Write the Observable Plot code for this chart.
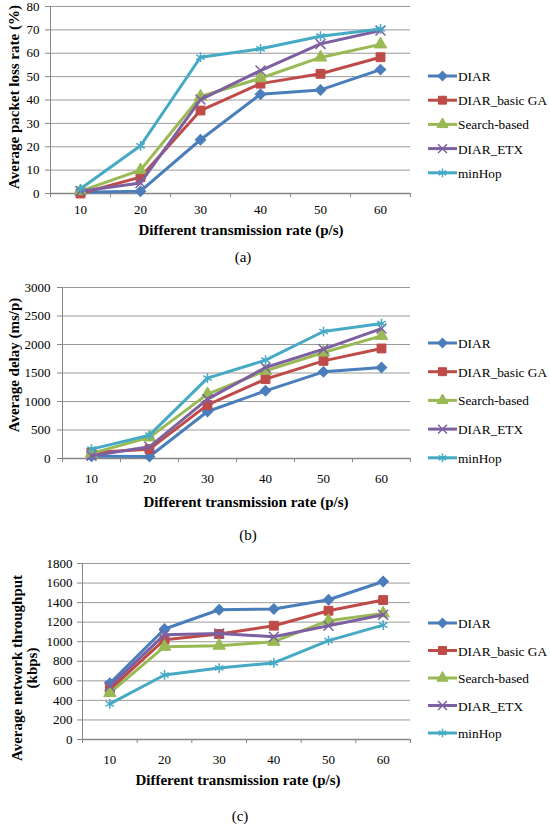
<!DOCTYPE html>
<html>
<head>
<meta charset="utf-8">
<script src="https://cdn.jsdelivr.net/npm/d3@7"></script>
<script src="https://cdn.jsdelivr.net/npm/@observablehq/plot@0.6"></script>
<style>
  html, body { margin: 0; padding: 0; background: #fff; font-family: "Liberation Serif", "DejaVu Serif", serif; }
  #root { position: relative; width: 550px; height: 828px; background: #fff; overflow: hidden; }
  #root svg { position: absolute; left: 0; }
  #root svg text { font-family: "Liberation Serif", "DejaVu Serif", serif !important; }
</style>
</head>
<body>
<div id="root"></div>
<script>
// ---------- data ----------
const series = ["DIAR", "DIAR_basic GA", "Search-based", "DIAR_ETX", "minHop"];
const seriesColors = ["#4A7EBB", "#BE4B48", "#98B954", "#7D60A0", "#46AAC5"];
const rates = [10, 20, 30, 40, 50, 60];

// (a) Average packet loss rate (%)
const lossDIAR    = [0.5, 1, 23, 42.5, 44.3, 53];
const lossBasicGA = [0, 7, 35.5, 47, 51.2, 58.3];
const lossSearch  = [1, 10, 41.5, 49.3, 58.2, 63.8];
const lossETX     = [1, 4.5, 40.2, 52.6, 64, 69.7];
const lossMinHop  = [2, 20.4, 58.3, 61.9, 67.3, 70.4];
const lossTicks   = [0, 10, 20, 30, 40, 50, 60, 70, 80];

// (b) Average delay (ms/p)
const delayDIAR    = [40, 35, 825, 1187, 1520, 1596];
const delayBasicGA = [105, 164, 941, 1392, 1713, 1930];
const delaySearch  = [90, 370, 1129, 1538, 1860, 2152];
const delayETX     = [50, 205, 1041, 1596, 1918, 2280];
const delayMinHop  = [164, 409, 1409, 1725, 2228, 2368];
const delayTicks   = [0, 500, 1000, 1500, 2000, 2500, 3000];

// (c) Average network throughput (kbps)
const thrDIAR    = [575, 1130, 1327, 1334, 1429, 1616];
const thrBasicGA = [510, 1021, 1079, 1164, 1317, 1426];
const thrSearch  = [476, 949, 960, 1000, 1215, 1290];
const thrETX     = [544, 1072, 1085, 1051, 1164, 1276];
const thrMinHop  = [364, 660, 731, 783, 1011, 1170];
const thrTicks   = [0, 200, 400, 600, 800, 1000, 1200, 1400, 1600, 1800];

const xTitle = "Different transmission rate (p/s)";

// ---------- helpers ----------
const FONT = "Liberation Serif, DejaVu Serif, serif";
const GRID = "#9b9b9b";
const AXIS = "#868686";
const symbolNames = ["square", "square", "triangle", "times", "asterisk"];
const rotations = [45, 0, 0, 0, 0];
const radii = [4.2, 5.0, 4.6, 4.6, 4.6];

function rowsOf(arrays) {
  return series.flatMap((s, i) => rates.map((r, j) => ({series: s, rate: r, value: arrays[i][j]})));
}

const boundaries = [rates[0] - 5, ...rates.map(r => r + 5)];

function chart({arrays, ticks, top, height, marginTop, marginBottom, marginLeft, yPad, xPad}) {
  const rows = rowsOf(arrays);
  const marks = [
    Plot.gridY(ticks, {stroke: GRID, strokeOpacity: 1}),
    Plot.axisY(ticks, {tickSize: 5, tickPadding: yPad, label: null, stroke: AXIS, fontSize: 13, tickFormat: d => String(d)}),
    Plot.ruleX([boundaries[0]], {stroke: AXIS}),
    Plot.ruleY([0], {stroke: AXIS, strokeWidth: 1.5}),
    Plot.axisX(boundaries, {tickSize: 4, tickFormat: () => "", label: null, stroke: AXIS}),
    Plot.axisX(rates, {tickSize: 0, tickPadding: xPad, label: null, fontSize: 13, tickFormat: d => String(d)})
  ];
  series.forEach((s, i) => {
    const d = rows.filter(r => r.series === s);
    marks.push(Plot.lineY(d, {x: "rate", y: "value", stroke: "series", strokeWidth: 3}));
    marks.push(Plot.dot(d, {
      x: "rate", y: "value", symbol: "series", fill: "series", stroke: "series",
      r: radii[i], strokeWidth: i < 3 ? 1 : 1.5, rotate: rotations[i]
    }));
  });
  const svg = Plot.plot({
    width: 550, height, marginLeft, marginRight: 140, marginTop, marginBottom,
    style: {fontFamily: FONT, fontSize: "13px", color: "#000", background: "transparent"},
    x: {type: "linear", domain: [boundaries[0], boundaries[boundaries.length - 1]]},
    y: {domain: [ticks[0], ticks[ticks.length - 1]]},
    color: {domain: series, range: seriesColors},
    symbol: {domain: series, range: symbolNames},
    marks
  });
  svg.style.top = top + "px";
  return svg;
}

const root = document.getElementById("root");
root.appendChild(chart({
  arrays: [lossDIAR, lossBasicGA, lossSearch, lossETX, lossMinHop], ticks: lossTicks,
  top: 0, height: 222, marginTop: 6, marginBottom: 29, marginLeft: 50, yPad: 6, xPad: 11
}));
root.appendChild(chart({
  arrays: [delayDIAR, delayBasicGA, delaySearch, delayETX, delayMinHop], ticks: delayTicks,
  top: 270, height: 218, marginTop: 17, marginBottom: 30, marginLeft: 62, yPad: 7, xPad: 15
}));
root.appendChild(chart({
  arrays: [thrDIAR, thrBasicGA, thrSearch, thrETX, thrMinHop], ticks: thrTicks,
  top: 550, height: 220, marginTop: 13, marginBottom: 31, marginLeft: 82, yPad: 5, xPad: 15
}));

// ---------- titles, captions, legends ----------
const ov = d3.create("svg").attr("width", 550).attr("height", 828)
  .style("top", "0px").style("font-family", FONT).style("pointer-events", "none");

const panels = [
  {yTitle: ["Average packet loss rate (%)"], yx: [19], yc: 97, xc: 241, xb: 235, cap: "(a)", cb: 262, legY: 76, legStep: 24.2},
  {yTitle: ["Average delay (ms/p)"], yx: [19], yc: 365, xc: 246, xb: 507, cap: "(b)", cb: 540, legY: 343, legStep: 28.7},
  {yTitle: ["Average network throughput", "(kbps)"], yx: [22, 37], yc: 668, xc: 238, xb: 785, cap: "(c)", cb: 821, legY: 623, legStep: 27.5}
];

const symFns = [d3.symbolSquare, d3.symbolSquare, d3.symbolTriangle, d3.symbolTimes, d3.symbolAsterisk];

panels.forEach(p => {
  p.yTitle.forEach((t, k) => {
    ov.append("text").attr("transform", `translate(${p.yx[k]},${p.yc}) rotate(-90)`)
      .attr("text-anchor", "middle").attr("font-weight", "bold").attr("font-size", 15).text(t);
  });
  ov.append("text").attr("x", p.xc).attr("y", p.xb).attr("text-anchor", "middle")
    .attr("font-weight", "bold").attr("font-size", 15).text(xTitle);
  ov.append("text").attr("x", p.xc + 2).attr("y", p.cb).attr("text-anchor", "middle")
    .attr("font-size", 15).text(p.cap);
  series.forEach((s, i) => {
    const cy = p.legY + i * p.legStep;
    ov.append("line").attr("x1", 428).attr("x2", 457).attr("y1", cy).attr("y2", cy)
      .attr("stroke", seriesColors[i]).attr("stroke-width", 3);
    const size = Math.PI * radii[i] * radii[i] * 0.8;
    ov.append("path").attr("d", d3.symbol(symFns[i], size)())
      .attr("transform", `translate(442.5,${cy}) rotate(${rotations[i]})`)
      .attr("fill", seriesColors[i]).attr("stroke", seriesColors[i]).attr("stroke-width", i < 3 ? 1 : 1.5);
    ov.append("text").attr("x", 458).attr("y", cy + 5).attr("font-size", 13.3).text(s);
  });
});
root.appendChild(ov.node());
</script>
</body>
</html>
